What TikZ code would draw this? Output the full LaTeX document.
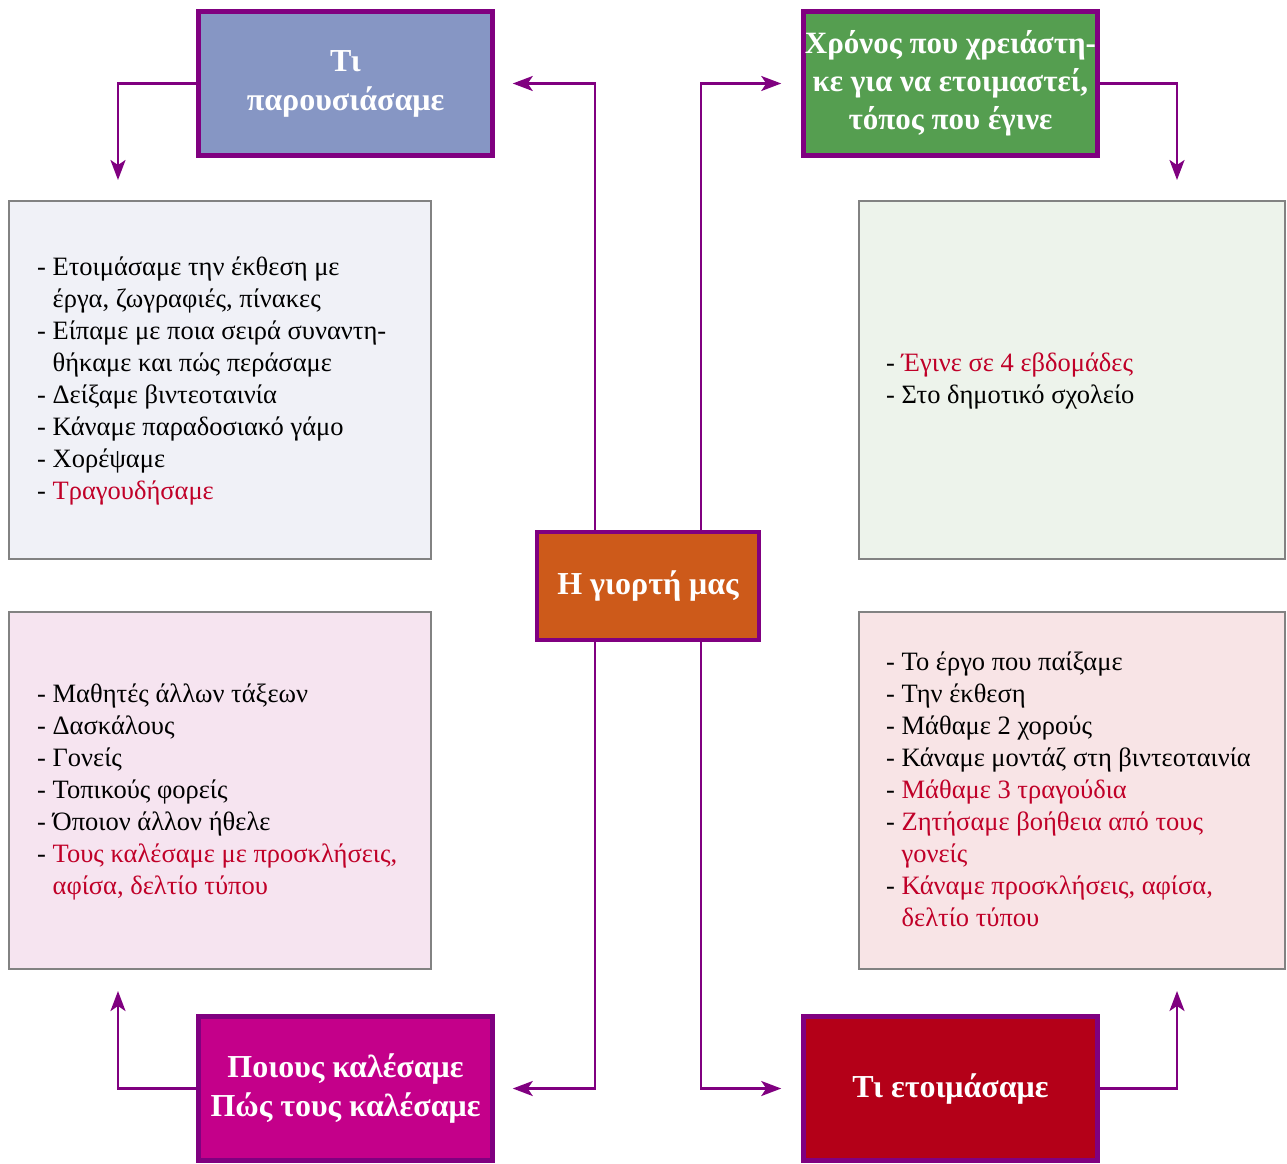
\documentclass[tikz,border=0pt]{standalone}
\usepackage{fontspec}
\setmainfont{Liberation Serif}
\usetikzlibrary{arrows.meta}
\definecolor{purp}{RGB}{128,0,128}
\definecolor{fblue}{RGB}{134,150,196}
\definecolor{fgreen}{RGB}{85,158,80}
\definecolor{forange}{RGB}{205,90,26}
\definecolor{fmag}{RGB}{196,0,138}
\definecolor{fred}{RGB}{180,0,24}
\definecolor{lblue}{RGB}{240,241,247}
\definecolor{lgreen}{RGB}{237,243,235}
\definecolor{lpink}{RGB}{246,228,240}
\definecolor{lrose}{RGB}{248,228,230}
\definecolor{bgray}{RGB}{130,130,130}
\definecolor{txtred}{RGB}{192,0,40}
\newcommand{\rd}[1]{\textcolor{txtred}{#1}}
\newcommand{\ind}{\phantom{- }}
\newcommand{\lst}[1]{\parbox[t]{420pt}{\fontsize{26.5}{32}\selectfont\raggedright #1}}
\tikzset{
  titlebox/.style={draw=purp, line width=4.5pt, minimum width=294pt, minimum height=144pt,
    align=center, text=white, font=\fontsize{32}{39}\selectfont\bfseries, inner sep=0pt},
  contbox/.style={draw=bgray, line width=2pt, minimum height=358pt},
  listtext/.style={inner sep=0pt, anchor=base west},
  conn/.style={draw=purp, line width=2.5pt, -{Stealth[length=20pt,width=15pt,inset=5pt]}},
}
\begin{document}
\begin{tikzpicture}[x=1pt,y=-1pt]
\useasboundingbox (0,0) rectangle (1287,1163);
% content boxes
\node[contbox, fill=lblue, minimum width=422pt] (ctl) at (220,380) {};
\node[contbox, fill=lgreen, minimum width=426pt] (ctr) at (1072,380) {};
\node[contbox, fill=lpink, minimum width=422pt, minimum height=357pt] (cbl) at (220,790.5) {};
\node[contbox, fill=lrose, minimum width=426pt, minimum height=357pt] (cbr) at (1072,790.5) {};
% title boxes
\node[titlebox, fill=fblue] (tl) at (345.5,83.5) {Τι\\παρουσιάσαμε};
\node[titlebox, fill=fgreen, font=\fontsize{31}{38}\selectfont\bfseries] (tr) at (950.5,83.5) {Χρόνος που χρειάστη-\\κε για να ετοιμαστεί,\\τόπος που έγινε};
\node[titlebox, fill=fmag] (bl) at (345.5,1088.5) {Ποιους καλέσαμε\\Πώς τους καλέσαμε};
\node[titlebox, fill=fred] (br) at (950.5,1088.5) {Τι ετοιμάσαμε};
\node[titlebox, fill=forange, minimum width=222pt, minimum height=108pt] (cen) at (648,586) {Η γιορτή μας};
% list texts
\node[listtext] (ttl) at (37,275) {\lst{- Ετοιμάσαμε την έκθεση με\\\ind έργα, ζωγραφιές, πίνακες\\- Είπαμε με ποια σειρά συναντη-\\\ind θήκαμε και πώς περάσαμε\\- Δείξαμε βιντεοταινία\\- Κάναμε παραδοσιακό γάμο\\- Χορέψαμε\\- \rd{Τραγουδήσαμε}}};
\node[listtext] (ttr) at (886,371) {\lst{- \rd{Έγινε σε 4 εβδομάδες}\\- Στο δημοτικό σχολείο}};
\node[listtext] (tbl) at (37,702) {\lst{- Μαθητές άλλων τάξεων\\- Δασκάλους\\- Γονείς\\- Τοπικούς φορείς\\- Όποιον άλλον ήθελε\\- \rd{Τους καλέσαμε με προσκλήσεις,}\\\ind\rd{αφίσα, δελτίο τύπου}}};
\node[listtext] (tbr) at (886,670) {\lst{- Το έργο που παίξαμε\\- Την έκθεση\\- Μάθαμε 2 χορούς\\- Κάναμε μοντάζ στη βιντεοταινία\\- \rd{Μάθαμε 3 τραγούδια}\\- \rd{Ζητήσαμε βοήθεια από τους}\\\ind\rd{γονείς}\\- \rd{Κάναμε προσκλήσεις, αφίσα,}\\\ind\rd{δελτίο τύπου}}};
% connector columns
\coordinate (c1) at (595,0);
\coordinate (c2) at (701,0);
\coordinate (l1) at (118,0);
\coordinate (r1) at (1177,0);
% from centre
\draw[conn, shorten >=18pt] (cen.north -| c1) |- (tl.east);
\draw[conn, shorten >=20pt] (cen.north -| c2) |- (tr.west);
\draw[conn, shorten >=18pt] (cen.south -| c1) |- (bl.east);
\draw[conn, shorten >=20pt] (cen.south -| c2) |- (br.west);
% from titles to content
\draw[conn, shorten >=20pt] (tl.west) -| (ctl.north -| l1);
\draw[conn, shorten >=20pt] (tr.east) -| (ctr.north -| r1);
\draw[conn, shorten >=21pt] (bl.west) -| (cbl.south -| l1);
\draw[conn, shorten >=21pt] (br.east) -| (cbr.south -| r1);
\end{tikzpicture}
\end{document}
